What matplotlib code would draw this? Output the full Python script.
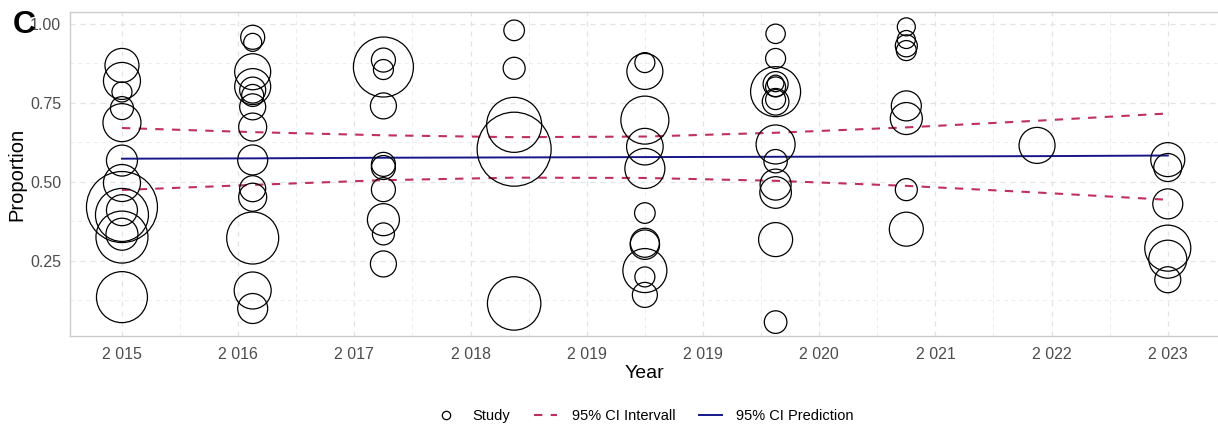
import matplotlib.pyplot as plt
import numpy as np
from matplotlib.lines import Line2D

plt.rcParams['font.family'] = ['Liberation Sans', 'DejaVu Sans']

# studies: year, proportion, weight (bubble radius)
year = ([2015] * 13 + [2016] * 14 + [2017] * 10 + [2018] * 5 + [2019] * 11
        + [2020] * 14 + [2021] * 8 + [2022] * 1 + [2023] * 6)
prop = [0.868, 0.819, 0.784, 0.733, 0.687, 0.567, 0.496, 0.420, 0.395, 0.410, 0.325, 0.334, 0.135,
        0.957, 0.941, 0.848, 0.801, 0.790, 0.773, 0.737, 0.673, 0.569, 0.478, 0.451, 0.322, 0.156, 0.099,
        0.863, 0.885, 0.855, 0.740, 0.555, 0.545, 0.475, 0.380, 0.335, 0.240,
        0.979, 0.859, 0.680, 0.603, 0.115,
        0.877, 0.849, 0.695, 0.611, 0.542, 0.401, 0.307, 0.301, 0.219, 0.199, 0.142,
        0.968, 0.890, 0.785, 0.809, 0.811, 0.800, 0.753, 0.760, 0.618, 0.565, 0.491, 0.466, 0.317, 0.056,
        0.990, 0.950, 0.930, 0.915, 0.740, 0.700, 0.475, 0.350,
        0.615,
        0.570, 0.545, 0.430, 0.290, 0.255, 0.190]
weight = [17, 18.5, 10, 11.5, 19, 15.5, 18.5, 35.5, 26.5, 15.5, 26, 16, 25.5,
          12, 9, 18, 18, 13, 11, 13, 14, 15, 13, 14, 26, 18.5, 15,
          30, 12, 10, 13, 12, 12, 12, 16, 11, 13,
          10.3, 11, 27.5, 37, 26.7,
          10, 18, 24, 18.3, 20, 10.3, 14.5, 14.7, 22, 10, 12.5,
          9.7, 10, 25, 12.5, 8.3, 10, 13.3, 10, 19.5, 11.7, 15.5, 15.8, 17, 11.3,
          9, 9, 11, 10, 15, 16, 11, 17,
          18,
          17, 14, 15, 23, 19, 13]

# meta-regression line and confidence band
fit_year = [2015, 2016, 2017, 2018, 2019, 2020, 2021, 2022, 2023]
pred = [0.573, 0.574, 0.576, 0.577, 0.578, 0.579, 0.580, 0.581, 0.583]
ci_upper = [0.670, 0.657, 0.647, 0.641, 0.643, 0.655, 0.672, 0.693, 0.716]
ci_lower = [0.474, 0.490, 0.505, 0.513, 0.512, 0.503, 0.487, 0.466, 0.443]

fig = plt.figure(figsize=(12.18, 4.25), dpi=100)
ax = fig.add_axes([0.0572, 0.2094, 0.9445, 0.7616])

sizes = (1.44 * np.array(weight)) ** 2
ax.scatter(year, prop, s=sizes, facecolors='none', edgecolors='black', linewidths=0.9, zorder=3)
ax.plot(fit_year, ci_upper, color='#c0305a', lw=1.5, dashes=(4, 4), zorder=2)
ax.plot(fit_year, ci_lower, color='#c0305a', lw=1.5, dashes=(4, 4), zorder=2)
ax.plot(fit_year, pred, color='#16168a', lw=1.4, zorder=2)

ax.set_xlim(2014.6, 2023.4)
ax.set_ylim(0.012, 1.036)

xt = np.linspace(2015, 2023, 10)
ax.set_xticks(xt)
ax.set_xticklabels([f"{int(round(v)):,}".replace(',', ' ') for v in xt])
ax.set_xticks((xt[:-1] + xt[1:]) / 2, minor=True)
ax.set_yticks([0.25, 0.50, 0.75, 1.00])
ax.set_yticklabels(['0.25', '0.50', '0.75', '1.00'])
ax.set_yticks([0.125, 0.375, 0.625, 0.875], minor=True)

ax.grid(which='major', color='#e3e3e3', lw=0.9, ls=(0, (4, 4)))
ax.grid(which='minor', color='#ececec', lw=0.7, ls=(0, (4, 4)))
ax.set_axisbelow(True)
ax.tick_params(which='both', length=0)
ax.tick_params(labelsize=11.5, labelcolor='#4d4d4d')
ax.tick_params(axis='y', pad=6)
ax.tick_params(axis='x', pad=8)
for sp in ax.spines.values():
    sp.set_color('#cccccc')
    sp.set_linewidth(1)

ax.set_xlabel('Year', fontsize=14, labelpad=2)
ax.set_ylabel('Proportion', fontsize=14.5, labelpad=3)

fig.text(0.0105, 0.977, 'C', fontsize=23, weight='heavy', va='top', ha='left')

handles = [
    Line2D([], [], marker='o', ls='none', markerfacecolor='none', markeredgecolor='black',
           markersize=6, markeredgewidth=0.9),
    Line2D([], [], color='#c0305a', lw=1.5, dashes=(4, 4)),
    Line2D([], [], color='#16168a', lw=1.4),
]
fig.legend(handles, ['Study', '95% CI Intervall', '95% CI Prediction'], loc='center',
           bbox_to_anchor=(0.529, 0.022), ncol=3, frameon=False, fontsize=10.5,
           handlelength=1.6, handletextpad=1.0, columnspacing=1.6)

fig.savefig('out.png', dpi=100)
